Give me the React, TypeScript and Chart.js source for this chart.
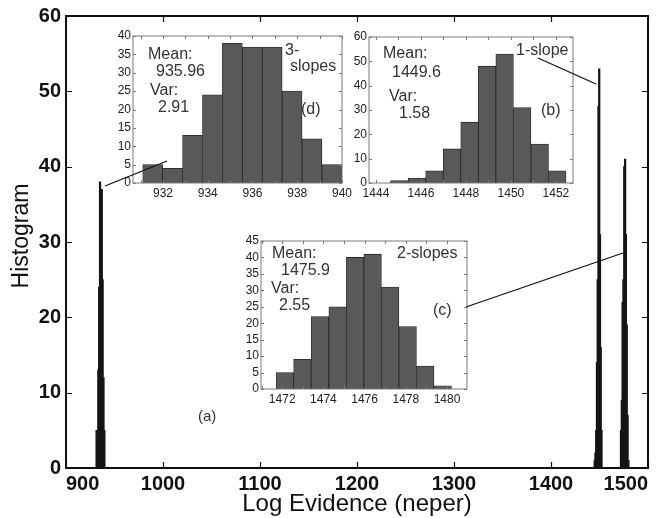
import React, { useEffect, useRef } from "react";
import { Chart, registerables } from "chart.js";
Chart.register(...registerables);

// ---------- data ----------
const MAIN_X_TICKS = [900, 1000, 1100, 1200, 1300, 1400, 1500];
const MAIN_Y_TICKS = [0, 10, 20, 30, 40, 50, 60];

// (d) 3-slopes
const D_BINS = [931.54, 932.43, 933.32, 934.21, 935.1, 935.99, 936.88, 937.77, 938.66, 939.55];
const D_COUNTS = [5, 4, 13, 24, 38, 37, 37, 25, 12, 5];
const D_X_TICKS = [932, 934, 936, 938, 940];
const D_Y_TICKS = [0, 5, 10, 15, 20, 25, 30, 35, 40];

// (b) 1-slope
const B_BINS = [1445.04, 1445.82, 1446.6, 1447.38, 1448.16, 1448.94, 1449.72, 1450.5, 1451.28, 1452.06];
const B_COUNTS = [1, 2, 5, 14, 25, 48, 53, 31, 16, 5];
const B_X_TICKS = [1444, 1446, 1448, 1450, 1452];
const B_Y_TICKS = [0, 10, 20, 30, 40, 50, 60];

// (c) 2-slopes
const C_BINS = [1472.13, 1472.98, 1473.83, 1474.69, 1475.54, 1476.39, 1477.24, 1478.09, 1478.94, 1479.79];
const C_COUNTS = [5, 9, 22, 25, 40, 41, 31, 19, 7, 1];
const C_X_TICKS = [1472, 1474, 1476, 1478, 1480];
const C_Y_TICKS = [0, 5, 10, 15, 20, 25, 30, 35, 40, 45];

const FONT = "'Liberation Sans', Arial, sans-serif";

type TextItem = { t: string; x: number; y: number };

const plain = (v: any) => String(v);

const framePlugin = (o: {
  color: string;
  lw: number;
  tick: number;
  tickW: number;
  minorX?: boolean;
  texts?: TextItem[];
  textFont?: string;
  textColor?: string;
  lines?: number[][];
  xTitle?: string;
  yTitle?: string;
}) => ({
  id: "frame",
  afterDraw(chart: any) {
    const { ctx } = chart;
    const xs = chart.scales.x;
    const ys = chart.scales.y;
    const L = xs.left;
    const R = xs.right;
    const T = ys.top;
    const B = ys.bottom;
    ctx.save();
    ctx.strokeStyle = o.color;
    ctx.lineWidth = o.tickW;
    ctx.beginPath();
    let xv: number[] = xs.ticks.map((t: any) => t.value);
    if (o.minorX) {
      xv = [];
      for (let v = Math.ceil(xs.min); v <= Math.floor(xs.max); v++) xv.push(v);
    }
    xv.forEach((v) => {
      const px = Math.round(xs.getPixelForValue(v)) + 0.5;
      ctx.moveTo(px, B);
      ctx.lineTo(px, B - o.tick);
      ctx.moveTo(px, T);
      ctx.lineTo(px, T + o.tick);
    });
    ys.ticks.forEach((t: any) => {
      const py = Math.round(ys.getPixelForValue(t.value)) + 0.5;
      ctx.moveTo(L, py);
      ctx.lineTo(L + o.tick, py);
      ctx.moveTo(R, py);
      ctx.lineTo(R - o.tick, py);
    });
    ctx.stroke();
    ctx.lineWidth = o.lw;
    ctx.strokeRect(L, T, R - L, B - T);
    if (o.texts) {
      ctx.fillStyle = o.textColor || "#333";
      ctx.font = o.textFont || `15px ${FONT}`;
      ctx.textBaseline = "middle";
      ctx.textAlign = "left";
      o.texts.forEach((tx) => ctx.fillText(tx.t, L + tx.x, T + tx.y));
    }
    if (o.lines) {
      ctx.strokeStyle = "#111";
      ctx.lineWidth = 1.3;
      o.lines.forEach((l) => {
        ctx.beginPath();
        ctx.moveTo(l[0], l[1]);
        ctx.lineTo(l[2], l[3]);
        ctx.stroke();
      });
    }
    if (o.xTitle) {
      ctx.fillStyle = "#111";
      ctx.font = `24px ${FONT}`;
      ctx.textAlign = "center";
      ctx.textBaseline = "middle";
      ctx.fillText(o.xTitle, (L + R) / 2, 504);
    }
    if (o.yTitle) {
      ctx.save();
      ctx.fillStyle = "#111";
      ctx.font = `23px ${FONT}`;
      ctx.textAlign = "center";
      ctx.textBaseline = "middle";
      ctx.translate(22, 236);
      ctx.rotate(-Math.PI / 2);
      ctx.fillText(o.yTitle, 0, 0);
      ctx.restore();
    }
    ctx.restore();
  },
});

function insetConfig(
  bins: number[],
  counts: number[],
  xMin: number,
  xMax: number,
  yMax: number,
  xTicks: number[],
  yTicks: number[],
  texts: TextItem[]
) {
  const tickFont = { family: FONT, size: 12 };
  return {
    type: "bar",
    data: {
      datasets: [
        {
          data: bins.map((b, i) => ({ x: b, y: counts[i] })),
          backgroundColor: "#595959",
          borderColor: "#262626",
          borderWidth: 0.8,
          borderSkipped: "bottom",
          barPercentage: 1,
          categoryPercentage: 1,
        },
      ],
    },
    options: {
      animation: false,
      responsive: false,
      events: [],
      layout: { padding: { top: 10, right: 18, left: 0, bottom: 0 } },
      plugins: { legend: { display: false }, tooltip: { enabled: false } },
      scales: {
        x: {
          type: "linear",
          min: xMin,
          max: xMax,
          offset: false,
          grid: { display: false, drawTicks: false },
          border: { display: false },
          ticks: { font: tickFont, color: "#222", padding: 3, maxRotation: 0, autoSkip: false, callback: plain },
          afterBuildTicks: (s: any) => {
            s.ticks = xTicks.map((v) => ({ value: v }));
          },
          afterFit: (s: any) => {
            s.height = 19;
            s.paddingLeft = 0;
            s.paddingRight = 0;
          },
        },
        y: {
          min: 0,
          max: yMax,
          grid: { display: false, drawTicks: false },
          border: { display: false },
          ticks: { font: tickFont, color: "#222", padding: 2, autoSkip: false, callback: plain },
          afterBuildTicks: (s: any) => {
            s.ticks = yTicks.map((v) => ({ value: v }));
          },
          afterFit: (s: any) => {
            s.width = 28;
            s.paddingTop = 0;
            s.paddingBottom = 0;
          },
        },
      },
    },
    plugins: [
      framePlugin({
        color: "#7a7a7a",
        lw: 1,
        tick: 3,
        tickW: 1,
        minorX: true,
        texts,
        textFont: `16px ${FONT}`,
        textColor: "#333",
      }),
    ],
  } as any;
}

function useChart(ref: React.RefObject<HTMLCanvasElement>, make: () => any) {
  useEffect(() => {
    if (!ref.current) return;
    const c = new Chart(ref.current, make());
    return () => c.destroy();
  }, []);
}

// plot rectangles of the insets (page pixels): left, top, right, bottom
const INSETS = {
  d: [133, 36, 342, 183],
  b: [369, 37, 573, 183],
  c: [261, 241, 467, 389],
};

function InsetCanvas({ rect, make }: { rect: number[]; make: () => any }) {
  const ref = useRef<HTMLCanvasElement>(null);
  useChart(ref, make);
  const [l, t, r, b] = rect;
  const w = r + 18 - (l - 28);
  const h = b + 19 - (t - 10);
  return (
    <canvas
      ref={ref}
      width={w}
      height={h}
      style={{ position: "absolute", left: l - 28, top: t - 10, width: w, height: h, zIndex: 1 }}
    />
  );
}

function MainCanvas() {
  const ref = useRef<HTMLCanvasElement>(null);
  useChart(ref, () => {
    const pts = [
      ...D_BINS.map((b, i) => ({ x: b, y: D_COUNTS[i] })),
      ...B_BINS.map((b, i) => ({ x: b, y: B_COUNTS[i] })),
      ...C_BINS.map((b, i) => ({ x: b, y: C_COUNTS[i] })),
    ];
    const tickFont = { family: FONT, size: 20, weight: "bold" };
    return {
      type: "bar",
      data: {
        datasets: [
          {
            data: pts,
            backgroundColor: "#151515",
            borderWidth: 0,
            barThickness: 1.6,
          },
        ],
      },
      options: {
        animation: false,
        responsive: false,
        events: [],
        layout: { padding: { top: 16, right: 16, left: 0, bottom: 0 } },
        plugins: { legend: { display: false }, tooltip: { enabled: false } },
        scales: {
          x: {
            type: "linear",
            min: 900,
            max: 1500,
            offset: false,
            grid: { display: false, drawTicks: false },
            border: { display: false },
            ticks: {
              font: tickFont,
              color: "#111",
              padding: 4,
              maxRotation: 0,
              autoSkip: false,
              align: "inner",
              callback: plain,
            },
            afterBuildTicks: (s: any) => {
              s.ticks = MAIN_X_TICKS.map((v) => ({ value: v }));
            },
            afterFit: (s: any) => {
              s.height = 50;
              s.paddingLeft = 0;
              s.paddingRight = 0;
            },
          },
          y: {
            min: 0,
            max: 60,
            grid: { display: false, drawTicks: false },
            border: { display: false },
            ticks: { font: tickFont, color: "#111", padding: 5, autoSkip: false, callback: plain },
            afterBuildTicks: (s: any) => {
              s.ticks = MAIN_Y_TICKS.map((v) => ({ value: v }));
            },
            afterFit: (s: any) => {
              s.width = 66;
              s.paddingTop = 0;
              s.paddingBottom = 0;
            },
          },
        },
      },
      plugins: [
        framePlugin({
          color: "#111",
          lw: 2,
          tick: 6,
          tickW: 1.2,
          texts: [{ t: "(a)", x: 132, y: 401 }],
          textFont: `15px ${FONT}`,
          textColor: "#333",
          lines: [
            [105, 186, 167, 161],
            [538, 58, 596, 84],
            [466, 307, 623, 253],
          ],
          xTitle: "Log Evidence (neper)",
          yTitle: "Histogram",
        }),
      ],
    } as any;
  });
  return (
    <canvas
      ref={ref}
      width={664}
      height={518}
      style={{ position: "absolute", left: 0, top: 0, width: 664, height: 518, zIndex: 2, pointerEvents: "none" }}
    />
  );
}

export default function App() {
  return (
    <div style={{ position: "absolute", left: 0, top: 0, width: 664, height: 518, background: "#fff", overflow: "hidden" }}>
      <InsetCanvas
        rect={INSETS.d}
        make={() =>
          insetConfig(D_BINS, D_COUNTS, 930.66, 940, 40, D_X_TICKS, D_Y_TICKS, [
            { t: "Mean:", x: 15, y: 19 },
            { t: "935.96", x: 23, y: 36 },
            { t: "Var:", x: 17, y: 55 },
            { t: "2.91", x: 25, y: 72 },
            { t: "3-", x: 152, y: 15 },
            { t: "slopes", x: 157, y: 31 },
            { t: "(d)", x: 168, y: 74 },
          ])
        }
      />
      <InsetCanvas
        rect={INSETS.b}
        make={() =>
          insetConfig(B_BINS, B_COUNTS, 1443.69, 1452.76, 60, B_X_TICKS, B_Y_TICKS, [
            { t: "Mean:", x: 14, y: 17 },
            { t: "1449.6", x: 23, y: 36 },
            { t: "Var:", x: 20, y: 60 },
            { t: "1.58", x: 30, y: 77 },
            { t: "1-slope", x: 147, y: 14 },
            { t: "(b)", x: 172, y: 74 },
          ])
        }
      />
      <InsetCanvas
        rect={INSETS.c}
        make={() =>
          insetConfig(C_BINS, C_COUNTS, 1470.97, 1480.97, 45, C_X_TICKS, C_Y_TICKS, [
            { t: "Mean:", x: 11, y: 13 },
            { t: "1475.9", x: 20, y: 30 },
            { t: "Var:", x: 10, y: 48 },
            { t: "2.55", x: 18, y: 65 },
            { t: "2-slopes", x: 136, y: 13 },
            { t: "(c)", x: 172, y: 70 },
          ])
        }
      />
      <MainCanvas />
    </div>
  );
}
